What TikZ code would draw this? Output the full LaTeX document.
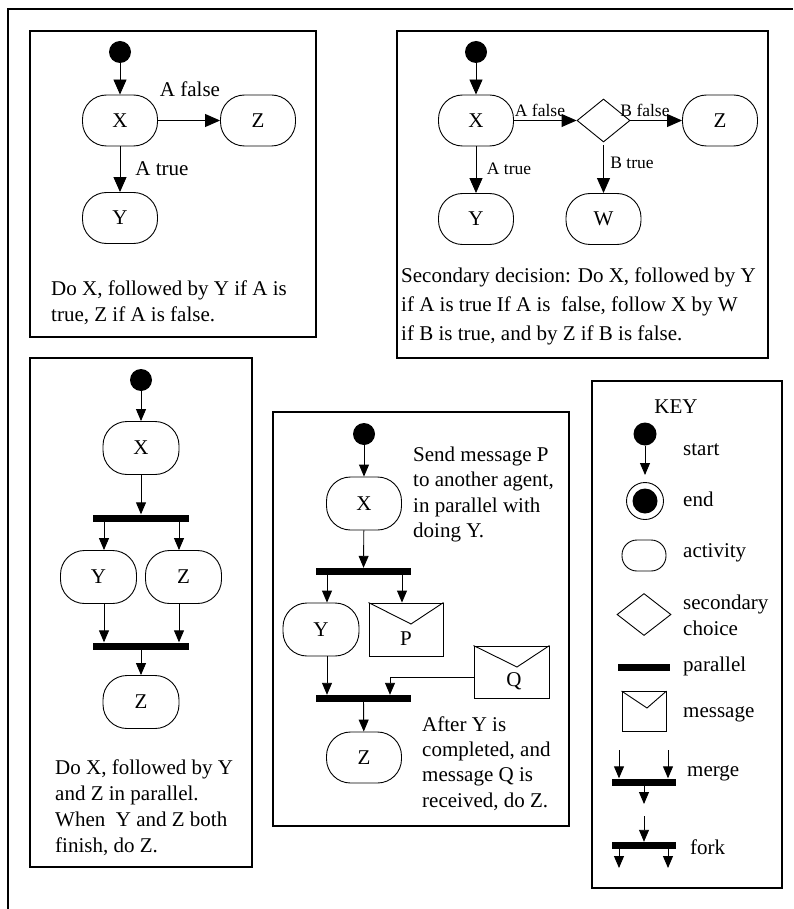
\documentclass[tikz,border=0pt]{standalone}
\usepackage{fontspec}
\setmainfont{Liberation Serif}
\usetikzlibrary{arrows.meta,shapes.geometric,calc}
\begin{document}
\begin{tikzpicture}[x=1pt,y=-1pt,
  act/.style={draw, line width=0.9pt, rounded corners=24pt, minimum width=75pt, minimum height=51pt, inner sep=0pt, font=\fontsize{21}{21}\selectfont},
  startdot/.style={circle, fill=black, minimum size=22pt, inner sep=0pt},
  barnode/.style={rectangle, fill=black, inner sep=0pt, minimum height=7pt, minimum width=96pt},
  arr/.style={-{Triangle[length=15pt,width=13pt]}, line width=0.9pt},
  arrs/.style={-{Triangle[length=12pt,width=10pt]}, line width=0.9pt},
  panel/.style={draw, line width=1.2pt},
  body/.style={font=\fontsize{21}{25}\selectfont, anchor=base west, inner sep=0pt},
  keytxt/.style={font=\fontsize{21}{25}\selectfont, anchor=west, inner sep=0pt},
  biglab/.style={font=\fontsize{21}{21}\selectfont, inner sep=0pt},
  smalllab/.style={font=\fontsize{17.5}{17.5}\selectfont, inner sep=0pt},
  choice/.style={draw, diamond, line width=0.9pt, minimum width=53pt, minimum height=43pt, inner sep=0pt},
  env/.style={draw, rectangle, line width=0.9pt, minimum width=74pt, minimum height=53pt, inner sep=0pt}
]
\useasboundingbox (0,0) rectangle (793,909);
% outer frame (top and left)
\draw[line width=2.8pt] (8,909) -- (8,9) -- (793,9);

%%%%%%%% Panel 1
\draw[panel] (30,31) rectangle (316,337);
\node[startdot] (s1) at (120,52) {};
\node[act] (X1) at (120,120.5) {X};
\node[act] (Z1) at (258,120.5) {Z};
\node[act] (Y1) at (120,218) {Y};
\draw[arr] (s1) -- (X1);
\draw[arr] (X1) -- (Z1);
\draw[arr] (X1) -- (Y1);
\node[biglab] (l1a) at (190,89) {A false};
\node[biglab] (l1b) at (162,169) {A true};
\node[body] (t1a) at (51,295) {Do X, followed by Y if A is};
\node[body] (t1b) at (51,321) {true, Z if A is false.};

%%%%%%%% Panel 2
\draw[panel] (397,31) rectangle (768,358);
\node[startdot] (s2) at (476,52) {};
\node[act] (X2) at (476,120.5) {X};
\node[choice] (D2) at (603.5,120.5) {};
\node[act] (Z2) at (720,120.5) {Z};
\node[act] (Y2) at (476,219) {Y};
\node[act] (W2) at (603.5,219) {W};
\draw[arr] (s2) -- (X2);
\draw[arr] (X2) -- (D2);
\draw[arr] (D2) -- (Z2);
\draw[arr] (X2) -- (Y2);
\draw[arr, shorten <=3pt] (D2) -- (W2);
\node[smalllab] (l2a) at (540,110) {A false};
\node[smalllab] (l2b) at (645,110) {B false};
\node[smalllab] (l2c) at (509,169) {A true};
\node[smalllab] (l2d) at (632,163) {B true};
\node[body] (t2a) at (401,282) {Secondary decision: Do X, followed by Y};
\node[body] (t2b) at (401,311) {if A is true If A is~ false, follow X by W};
\node[body] (t2c) at (401,340) {if B is true, and by Z if B is false.};

%%%%%%%% Panel 3
\draw[panel] (30,358) rectangle (252,867);
\node[startdot] (s3) at (141,380) {};
\node[act, minimum width=76pt, minimum height=53pt] (X3) at (141,448) {X};
\node[barnode] (b3a) at (141,518) {};
\node[act, minimum width=76pt, minimum height=53pt] (Y3) at (98.5,577) {Y};
\node[act, minimum width=76pt, minimum height=53pt] (Z3) at (183.5,577) {Z};
\node[barnode] (b3b) at (141,646) {};
\node[act, minimum width=76pt, minimum height=53pt] (Z3b) at (141,702) {Z};
\draw[arrs] (s3) -- (X3);
\draw[arrs] (X3) -- (b3a);
\draw[arrs] ([xshift=-37pt]b3a.south) -- ([xshift=5.5pt]Y3.north);
\draw[arrs] ([xshift=38pt]b3a.south) -- ([xshift=-4.5pt]Z3.north);
\draw[arrs] ([xshift=5.5pt]Y3.south) -- ([xshift=-37pt]b3b.north);
\draw[arrs] ([xshift=-4.5pt]Z3.south) -- ([xshift=38pt]b3b.north);
\draw[arrs] (b3b) -- (Z3b);
\node[body] (t3a) at (55,774) {Do X, followed by Y};
\node[body] (t3b) at (55,800) {and Z in parallel.};
\node[body] (t3c) at (55,826) {When~ Y and Z both};
\node[body] (t3d) at (55,852) {finish, do Z.};

%%%%%%%% Panel 4
\draw[panel] (273,412) rectangle (569,826);
\node[startdot] (s4) at (364,434) {};
\node[act, minimum height=53pt] (X4) at (364,503.5) {X};
\node[barnode, minimum width=95pt] (b4a) at (363.5,571.5) {};
\node[act, minimum width=76pt, minimum height=53pt] (Y4) at (321,629.5) {Y};
\node[env] (P4) at (406,629.5) {};
\coordinate (P4v) at (411,624);
\draw[line width=0.9pt] (P4.north west) -- (P4v) -- (P4.north east);
\node[biglab] (P4t) at (406,639) {P};
\node[env, minimum width=75pt, minimum height=52pt] (Q4) at (511.5,672) {};
\coordinate (Q4v) at (517,667);
\draw[line width=0.9pt] (Q4.north west) -- (Q4v) -- (Q4.north east);
\node[biglab] (Q4t) at (514,681) {Q};
\node[barnode, minimum width=95pt] (b4b) at (363.5,698.5) {};
\node[act] (Z4) at (364,757.5) {Z};
\draw[arrs] (s4) -- (X4);
\draw[arrs] (X4) -- (b4a);
\draw[arrs] ([xshift=-36.5pt]b4a.south) -- ([xshift=6pt]Y4.north);
\draw[arrs] ([xshift=38.5pt]b4a.south) -- ([xshift=-4pt]P4.north);
\draw[arrs] ([xshift=6pt]Y4.south) -- ([xshift=-36.5pt]b4b.north);
\draw[arrs] ([yshift=-5pt]Q4.west) -| ([xshift=26.5pt]b4b.north);
\draw[arrs] (b4b) -- (Z4);
\node[body] (t4a) at (413,461) {Send message P};
\node[body] (t4b) at (413,486) {to another agent,};
\node[body] (t4c) at (413,512) {in parallel with};
\node[body] (t4d) at (413,537) {doing Y.};
\node[body] (t4e) at (422,731) {After Y is};
\node[body] (t4f) at (422,756) {completed, and};
\node[body] (t4g) at (422,781) {message Q is};
\node[body] (t4h) at (422,807) {received, do Z.};

%%%%%%%% KEY
\draw[panel] (592,381) rectangle (782,888);
\node[biglab] (kk) at (676,407) {KEY};
\node[startdot, minimum size=23pt] (ks) at (645,434) {};
\coordinate (kse) at (645,475);
\draw[arrs] (ks) -- (kse);
\node[keytxt] (kst) at (683,450) {start};
\node[circle, draw, line width=0.9pt, minimum size=37pt, inner sep=0pt] (ke) at (645,501) {};
\node[circle, fill=black, minimum size=25pt, inner sep=0pt] (kei) at (645,501) {};
\node[keytxt] (ket) at (683,499) {end};
\node[act, rounded corners=15pt, minimum width=44pt, minimum height=31pt] (ka) at (644,555.5) {};
\node[keytxt] (kat) at (683,553) {activity};
\node[choice, minimum width=54pt, minimum height=42pt] (kd) at (644,614.5) {};
\node[keytxt] (kdt1) at (683,604) {secondary};
\node[keytxt] (kdt2) at (683,628) {choice};
\node[barnode, minimum width=52pt] (kp) at (644,667.5) {};
\node[keytxt] (kpt) at (683,666) {parallel};
\node[env, minimum width=44pt, minimum height=40pt] (km) at (644,711.5) {};
\coordinate (kmv) at (647,708);
\draw[line width=0.9pt] (km.north west) -- (kmv) -- (km.north east);
\node[keytxt] (kmt) at (683,714) {message};
% merge
\coordinate (kg1) at (619,750);
\coordinate (kg2) at (668,750);
\node[barnode, minimum width=64pt] (kgb) at (644,782) {};
\coordinate (kg3) at (644,804);
\draw[arrs] (kg1) -- (kg1 |- kgb.north);
\draw[arrs] (kg2) -- (kg2 |- kgb.north);
\draw[arrs] (kgb.south) -- (kg3);
\node[keytxt] (kgt) at (687,773) {merge};
% fork
\coordinate (kf0) at (644,816);
\node[barnode, minimum width=64pt] (kfb) at (644,845.5) {};
\coordinate (kf1) at (619,868);
\coordinate (kf2) at (668,868);
\draw[arrs] (kf0) -- (kfb.north);
\draw[arrs] (kf1 |- kfb.south) -- (kf1);
\draw[arrs] (kf2 |- kfb.south) -- (kf2);
\node[keytxt] (kft) at (690,847) {fork};
\end{tikzpicture}
\end{document}
